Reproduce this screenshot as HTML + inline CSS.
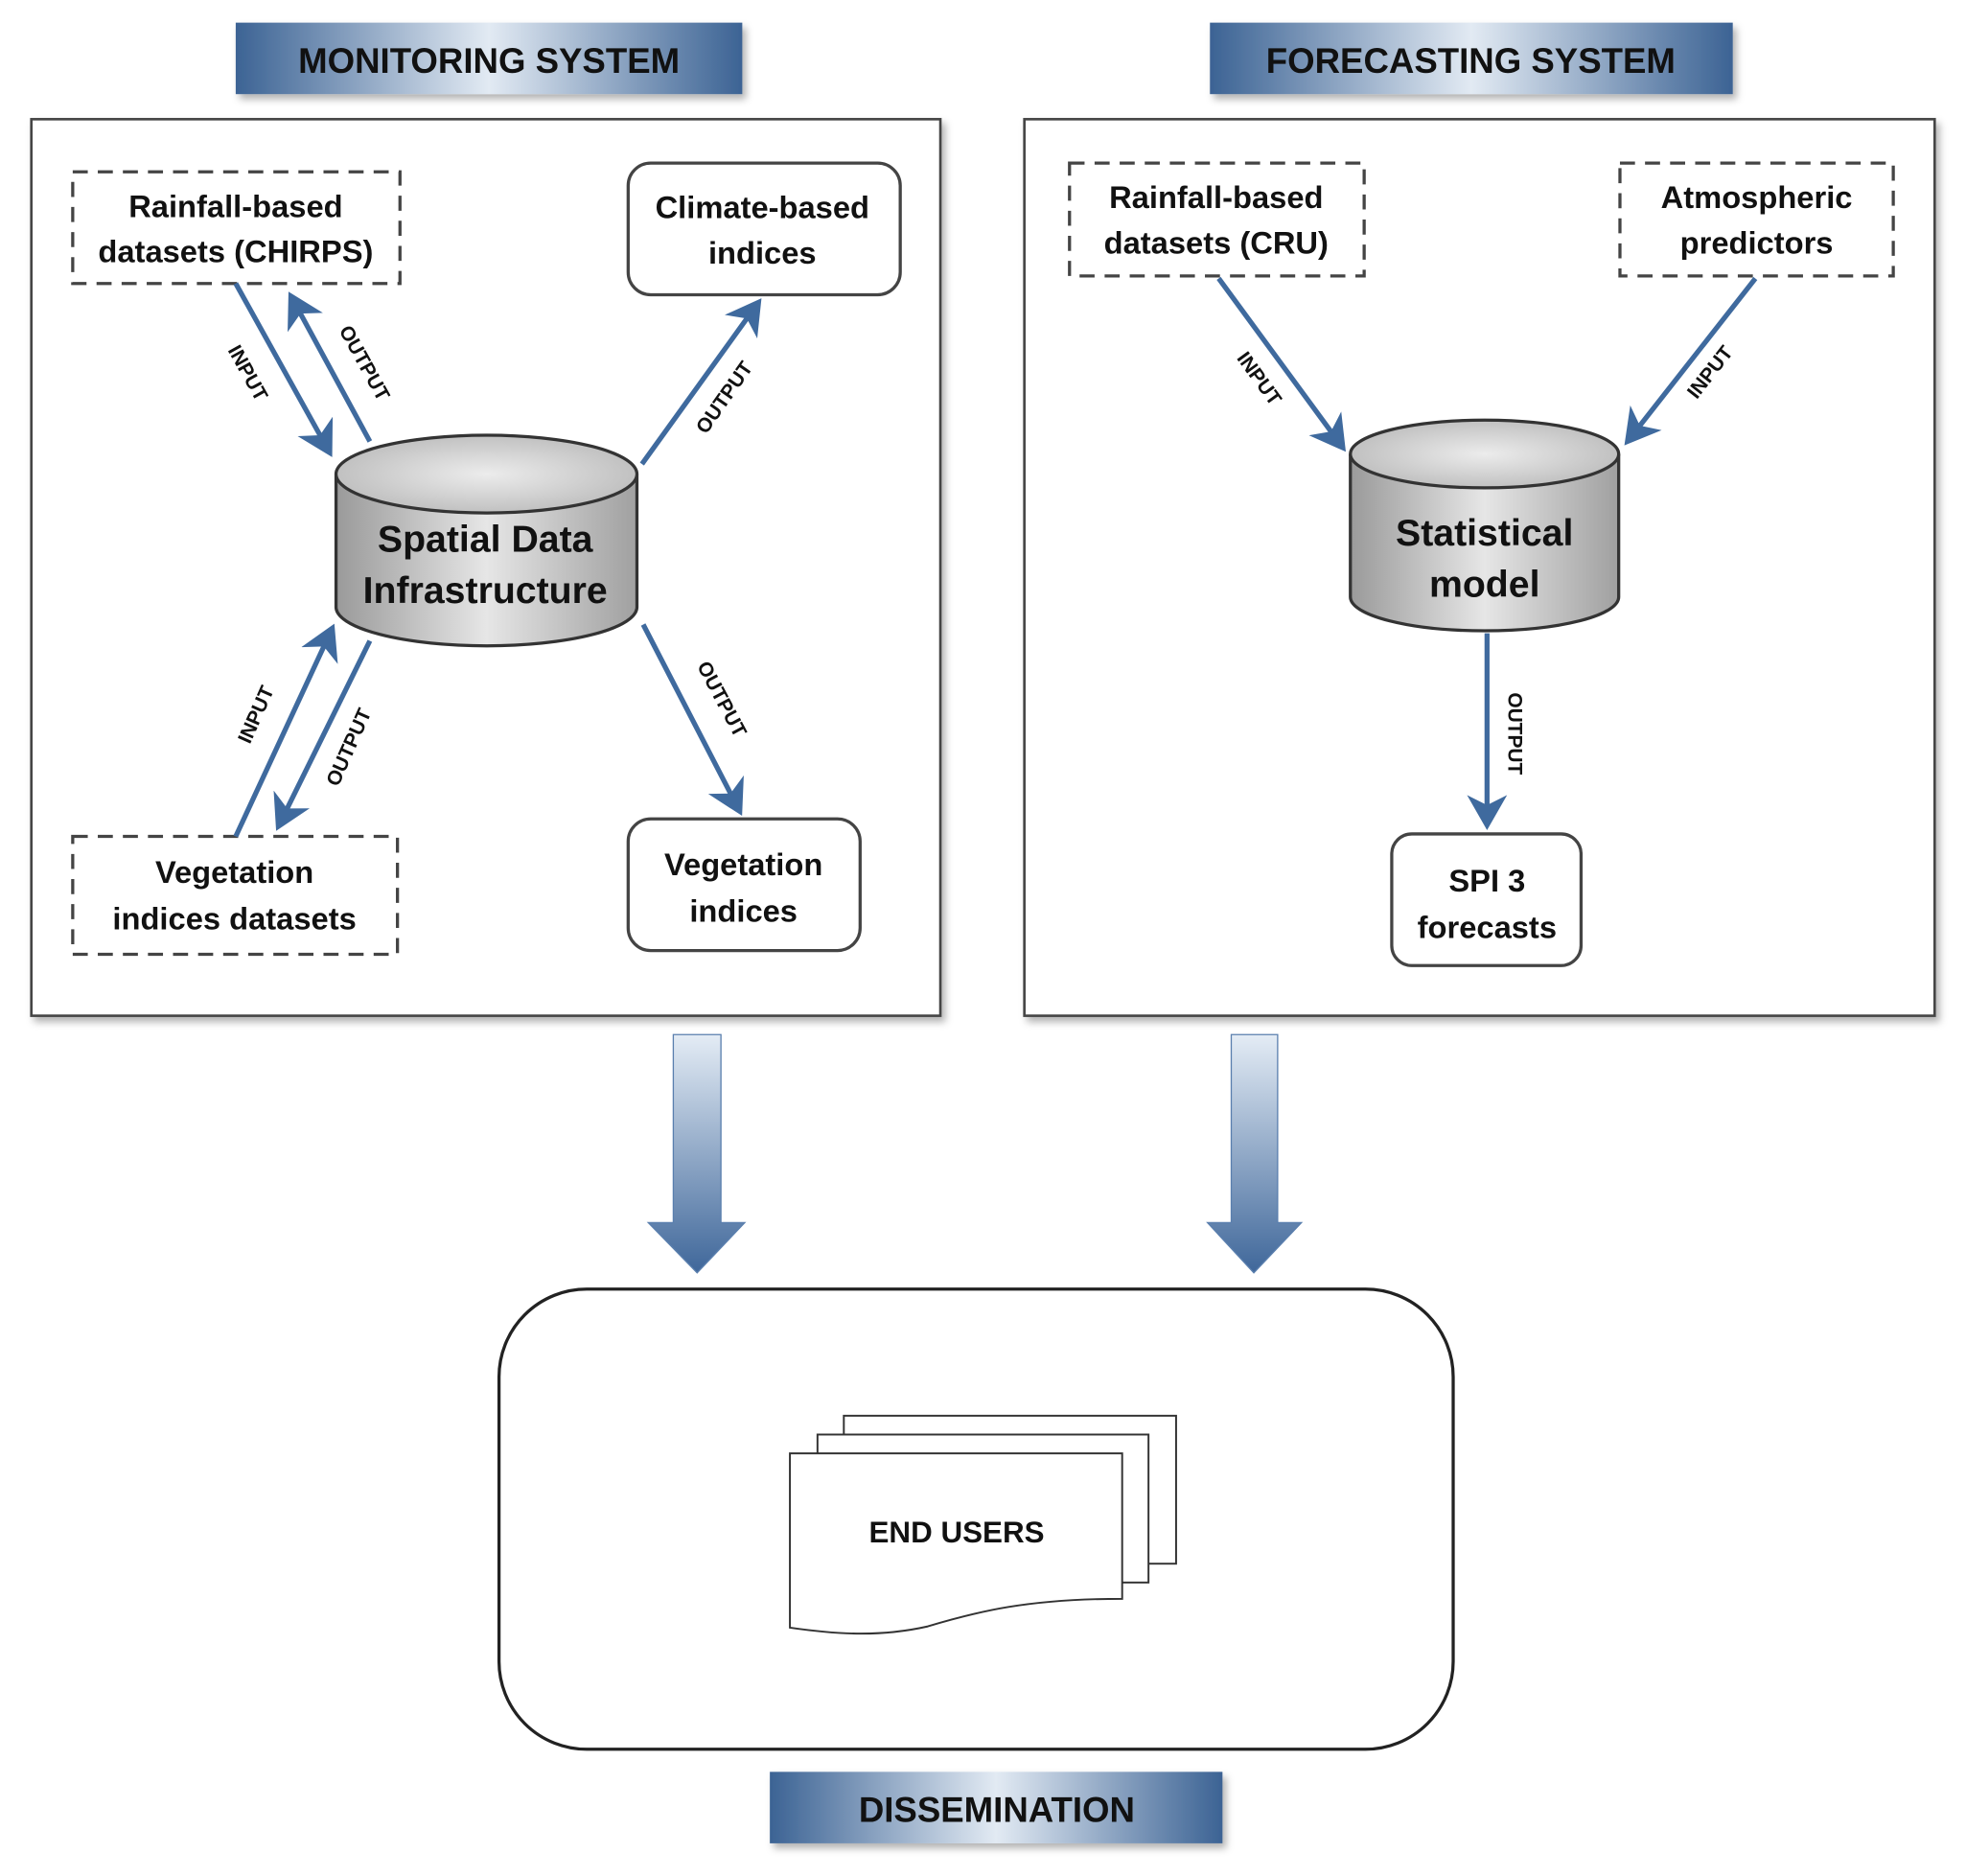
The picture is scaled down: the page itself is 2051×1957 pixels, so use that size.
<!DOCTYPE html>
<html><head><meta charset="utf-8"><style>
html,body{margin:0;padding:0;background:#fff}
svg{display:block}
text{font-family:"Liberation Sans",sans-serif;font-weight:bold;fill:#111}
</style></head><body>
<svg width="2051" height="1957" viewBox="0 0 1568 1496" xmlns="http://www.w3.org/2000/svg">
<defs>
<linearGradient id="tg" x1="0" x2="1" y1="0" y2="0">
<stop offset="0" stop-color="#3c6394"/><stop offset="0.5" stop-color="#e2eaf3"/><stop offset="1" stop-color="#3c6394"/></linearGradient>
<linearGradient id="cyl" x1="0" x2="1">
<stop offset="0" stop-color="#9a9a9a"/><stop offset="0.5" stop-color="#e6e6e6"/><stop offset="1" stop-color="#a0a0a0"/></linearGradient>
<radialGradient id="cyltop" cx="0.5" cy="0.5" r="0.6"><stop offset="0" stop-color="#ececec"/><stop offset="1" stop-color="#b8b8b8"/></radialGradient>
<linearGradient id="ba" x1="0" x2="0" y1="0" y2="1">
<stop offset="0" stop-color="#e4ecf5"/><stop offset="1" stop-color="#3f679a"/></linearGradient>
<marker id="ah" markerWidth="8" markerHeight="8" refX="6" refY="4" orient="auto" markerUnits="strokeWidth">
<path d="M0,0 L7,4 L0,8 L2,4 z" fill="#3f6a9e"/></marker>
<filter id="sh" x="-5%" y="-5%" width="115%" height="130%"><feDropShadow dx="3" dy="4" stdDeviation="3" flood-color="#000" flood-opacity="0.3"/></filter>
</defs>

<rect x="188" y="18" width="404" height="57" fill="url(#tg)" filter="url(#sh)"/>
<text x="390" y="58" font-size="28" text-anchor="middle">MONITORING SYSTEM</text>
<rect x="965" y="18" width="417" height="57" fill="url(#tg)" filter="url(#sh)"/>
<text x="1173" y="58" font-size="28" text-anchor="middle">FORECASTING SYSTEM</text>
<rect x="614" y="1413" width="361" height="57" fill="url(#tg)" filter="url(#sh)"/>
<text x="795" y="1453" font-size="28" text-anchor="middle">DISSEMINATION</text>

<rect x="25" y="95" width="725" height="715" fill="#fff" stroke="#444" stroke-width="2" filter="url(#sh)"/>
<rect x="817" y="95" width="726" height="715" fill="#fff" stroke="#444" stroke-width="2" filter="url(#sh)"/>

<g stroke="#444" stroke-width="2.5" fill="#fff">
<rect x="58" y="137" width="261" height="89" stroke-dasharray="12,8"/>
<rect x="58" y="667" width="259" height="94" stroke-dasharray="12,8"/>
<rect x="853" y="130" width="235" height="90" stroke-dasharray="12,8"/>
<rect x="1292" y="130" width="218" height="90" stroke-dasharray="12,8"/>
<rect x="501" y="130" width="217" height="105" rx="18"/>
<rect x="501" y="653" width="185" height="105" rx="18"/>
<rect x="1110" y="665" width="151" height="105" rx="16"/>
</g>
<g font-size="25" text-anchor="middle">
<text x="188" y="173">Rainfall-based</text><text x="188" y="209">datasets (CHIRPS)</text>
<text x="608" y="174">Climate-based</text><text x="608" y="210">indices</text>
<text x="187" y="704">Vegetation</text><text x="187" y="741">indices datasets</text>
<text x="593" y="698">Vegetation</text><text x="593" y="735">indices</text>
<text x="970" y="166">Rainfall-based</text><text x="970" y="202">datasets (CRU)</text>
<text x="1401" y="166">Atmospheric</text><text x="1401" y="202">predictors</text>
<text x="1186" y="711">SPI 3</text><text x="1186" y="748">forecasts</text>
</g>

<g stroke="#333" stroke-width="2.5">
<path d="M268,378 L268,484 A120,31 0 0 0 508,484 L508,378" fill="url(#cyl)"/>
<ellipse cx="388" cy="378" rx="120" ry="31" fill="url(#cyltop)"/>
<path d="M1077,362 L1077,476 A107,27 0 0 0 1291,476 L1291,362" fill="url(#cyl)"/>
<ellipse cx="1184" cy="362" rx="107" ry="27" fill="url(#cyltop)"/>
</g>
<g font-size="30" text-anchor="middle">
<text x="387" y="440">Spatial Data</text><text x="387" y="481">Infrastructure</text>
<text x="1184" y="435">Statistical</text><text x="1184" y="476">model</text>
</g>

<g stroke="#3f6a9e" stroke-width="4" marker-end="url(#ah)">
<line x1="188" y1="226" x2="263" y2="361"/>
<line x1="295" y1="352" x2="232" y2="236"/>
<line x1="512" y1="370" x2="605" y2="241"/>
<line x1="513" y1="498" x2="590" y2="647"/>
<line x1="188" y1="667" x2="265" y2="501"/>
<line x1="295" y1="511" x2="222" y2="659"/>
<line x1="972" y1="222" x2="1071" y2="357"/>
<line x1="1400" y1="222" x2="1298" y2="352"/>
<line x1="1186" y1="505" x2="1186" y2="658"/>
</g>
<g font-size="16">
<text transform="translate(193,300) rotate(61)" text-anchor="middle">INPUT</text>
<text transform="translate(286,292) rotate(61)" text-anchor="middle">OUTPUT</text>
<text transform="translate(582,320) rotate(-55)" text-anchor="middle">OUTPUT</text>
<text transform="translate(571,560) rotate(62)" text-anchor="middle">OUTPUT</text>
<text transform="translate(209,572) rotate(-66)" text-anchor="middle">INPUT</text>
<text transform="translate(283,598) rotate(-66)" text-anchor="middle">OUTPUT</text>
<text transform="translate(1000,305) rotate(54)" text-anchor="middle">INPUT</text>
<text transform="translate(1368,300) rotate(-52)" text-anchor="middle">INPUT</text>
<text transform="translate(1203,585) rotate(90)" text-anchor="middle">OUTPUT</text>
</g>

<path d="M537,825 L575,825 L575,975 L594,975 L556,1015 L517,975 L537,975 Z" fill="url(#ba)" stroke="#5a7fae" stroke-width="1"/>
<path d="M982,825 L1019,825 L1019,975 L1038,975 L1000,1015 L963,975 L982,975 Z" fill="url(#ba)" stroke="#5a7fae" stroke-width="1"/>

<rect x="398" y="1028" width="761" height="367" rx="70" fill="#fff" stroke="#222" stroke-width="2.5"/>
<g stroke="#333" stroke-width="1.5" fill="#fff">
<rect x="673" y="1129" width="265" height="118"/>
<rect x="652" y="1144" width="264" height="118"/>
<path d="M630,1159 L895,1159 L895,1275 C820,1275 780,1285 740,1297 C700,1306 665,1303 630,1298 Z"/>
</g>
<text x="763" y="1230" font-size="24" text-anchor="middle">END USERS</text>
</svg>
</body></html>
